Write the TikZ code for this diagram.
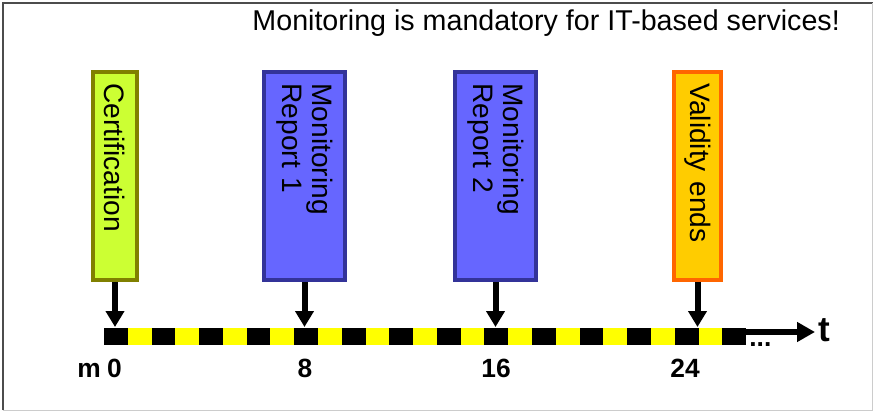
\documentclass[tikz,border=0pt]{standalone}
\usepackage{fontspec}
\setmainfont{Liberation Sans}
\usetikzlibrary{arrows.meta}

\definecolor{certfill}{HTML}{CCFF33}
\definecolor{certline}{HTML}{808000}
\definecolor{repfill}{HTML}{6666FF}
\definecolor{repline}{HTML}{333399}
\definecolor{endfill}{HTML}{FFCC00}
\definecolor{endline}{HTML}{FF6600}
\definecolor{baryellow}{HTML}{FFFF00}

\begin{document}
\begin{tikzpicture}[x=0.02cm, y=-0.02cm,
    evbox/.style={draw, rotate=-90, line width=0.08cm, minimum width=4.16cm,
        text width=3.7cm, align=left, inner xsep=0.1cm, inner ysep=0pt,
        font=\fontsize{16}{17}\selectfont},
    evarrow/.style={line width=0.12cm, -{Triangle[width=0.36cm, length=0.32cm]}},
    ticklabel/.style={anchor=base, font=\fontsize{15}{17}\selectfont\bfseries}]
    \useasboundingbox (0,0) rectangle (874,412);

    % Frame
    \draw[black!70, line width=0.04cm] (3,410) -- (3,3.5) -- (872.5,3.5);
    \draw[black!20, line width=0.03cm] (872.5,3.5) -- (872.5,410.5) -- (3,410.5);

    % Title
    \node[anchor=base east, font=\fontsize{16.3}{19}\selectfont] (title) at (846,31)
        {Monitoring is mandatory for IT-based services!};

    % Events
    \node[evbox, fill=certfill, draw=certline, minimum height=0.88cm] (cert) at (115,176) {Certification};
    \node[evbox, fill=repfill, draw=repline, minimum height=1.62cm] (rep1) at (304.5,176) {Monitoring\\Report 1};
    \node[evbox, fill=repfill, draw=repline, minimum height=1.62cm] (rep2) at (495.5,176) {Monitoring\\Report 2};
    \node[evbox, fill=endfill, draw=endline, minimum height=0.94cm] (valid) at (697.5,176) {Validity ends};

    % Time bar (one segment per month)
    \coordinate (bartop) at (0,327);
    \foreach \i in {0,...,26} {
        \ifodd\i \def\segcol{baryellow}\else\def\segcol{black}\fi
        \fill[\segcol] ({104+\i*23.78},328) rectangle ({104+(\i+1)*23.78},345);
    }
    \coordinate (barend) at (745,332);
    \coordinate (axisend) at (815,332);
    \draw[line width=0.11cm, -{Triangle[width=0.38cm, length=0.36cm]}] (barend) -- (axisend);
    \node[anchor=base west, inner sep=0pt, font=\fontsize{20}{22}\selectfont\bfseries] (tlab) at (818,341) {t};
    \node[anchor=base west, inner sep=0pt, font=\fontsize{15}{17}\selectfont\bfseries] (dots) at (749,346) {...};

    % Arrows from events to the bar
    \foreach \ev in {cert, rep1, rep2, valid}
        \draw[evarrow] (\ev.east) -- (\ev.east |- bartop);

    % Month labels
    \node[ticklabel] (mlab) at (89,377) {m};
    \node[ticklabel] (m0) at (114.5,377) {0};
    \node[ticklabel] (m8) at (305,377) {8};
    \node[ticklabel] (m16) at (496,377) {16};
    \node[ticklabel] (m24) at (685,377) {24};
\end{tikzpicture}
\end{document}
